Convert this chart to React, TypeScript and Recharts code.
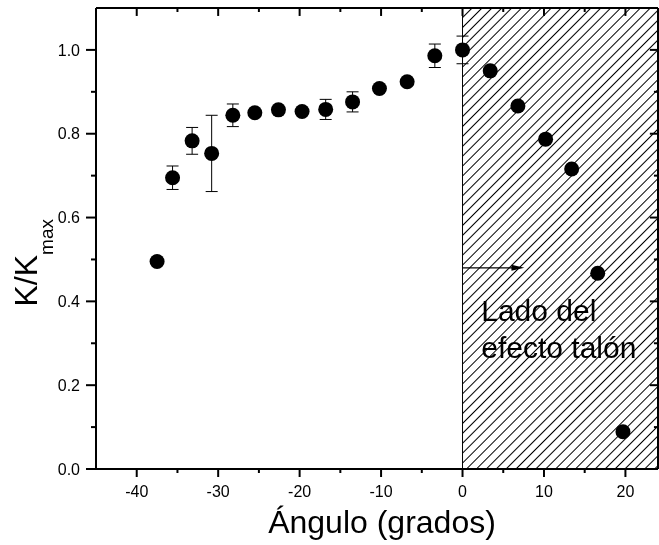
import React from "react";
import {
  ErrorBar,
  Label,
  ReferenceArea,
  ReferenceDot,
  ReferenceLine,
  Scatter,
  ScatterChart,
  XAxis,
  YAxis,
} from "recharts";

// angle in degrees
const angles = [
  -37.5, -35.6, -33.2, -30.8, -28.2, -25.5, -22.6, -19.7, -16.8, -13.5, -10.2,
  -6.8, -3.4, 0, 3.4, 6.8, 10.2, 13.4, 16.6, 19.7,
];
// K / Kmax
const ratios = [
  0.495, 0.695, 0.783, 0.753, 0.844, 0.85, 0.857, 0.853, 0.858, 0.876, 0.908,
  0.924, 0.986, 1.0, 0.95, 0.866, 0.787, 0.716, 0.467, 0.089,
];
const errors = [
  0, 0.028, 0.032, 0.091, 0.027, 0, 0, 0, 0.024, 0.024, 0, 0, 0.028, 0.033, 0,
  0, 0, 0, 0, 0,
];

const xTicks = [-40, -35, -30, -25, -20, -15, -10, -5, 0, 5, 10, 15, 20];
const yTicks = [0, 0.1, 0.2, 0.3, 0.4, 0.5, 0.6, 0.7, 0.8, 0.9, 1.0];

const xDomain = [-45, 24];
const yDomain = [0, 1.1];

const heelStart = 0;
const heelEnd = 24;
const arrowY = 0.48;
const arrowEnd = 7.6;

const points = angles.map((a, i) => ({ x: a, y: ratios[i], err: errors[i] }));

const isMajorX = (v: number) => Math.abs(v % 10) < 1e-6;
const isMajorY = (v: number) => Math.round(v * 10) % 2 === 0;

const BottomTick = ({ x, y, payload }: any) => {
  const major = isMajorX(payload.value);
  return (
    <g>
      <line x1={x} x2={x} y1={y} y2={y + (major ? 8 : 4)} stroke="#000" strokeWidth={2} />
      {major && (
        <text x={x} y={y + 28} textAnchor="middle" fontSize={16} fill="#000">
          {payload.value}
        </text>
      )}
    </g>
  );
};

const LeftTick = ({ x, y, payload }: any) => {
  const major = isMajorY(payload.value);
  return (
    <g>
      <line x1={x} x2={x - (major ? 10 : 5)} y1={y} y2={y} stroke="#000" strokeWidth={2} />
      {major && (
        <text x={x - 16} y={y} dy="0.35em" textAnchor="end" fontSize={16} fill="#000">
          {payload.value.toFixed(1)}
        </text>
      )}
    </g>
  );
};

// inward ticks on the top and right frame lines (short segments)
const FrameMark = ({ x1, y1, x2, y2 }: any) => (
  <line x1={x1} x2={x2} y1={y1} y2={y2} stroke="#000" strokeWidth={2} />
);

const XTitle = ({ viewBox }: any) => (
  <text
    x={viewBox.x + viewBox.width / 2 + 5}
    y={viewBox.y + 64}
    textAnchor="middle"
    fontSize={32}
    fill="#000"
  >
    Ángulo (grados)
  </text>
);

const YTitle = ({ viewBox }: any) => {
  const cx = 37;
  const cy = viewBox.y + viewBox.height / 2 + 68;
  return (
    <text transform={`rotate(-90, ${cx}, ${cy})`} x={cx} y={cy} fontSize={32} fill="#000">
      K/K
      <tspan fontSize={19} dy={16}>
        max
      </tspan>
    </text>
  );
};

const Dot = ({ cx, cy }: any) => <circle cx={cx} cy={cy} r={7.5} fill="#000" />;

const Arrow = ({ x1, y1, x2, y2 }: any) => (
  <g>
    <line x1={x1} y1={y1} x2={x2 - 10} y2={y2} stroke="#000" strokeWidth={1.2} />
    <polygon points={`${x2},${y2} ${x2 - 13},${y2 - 3} ${x2 - 13},${y2 + 3}`} fill="#000" />
  </g>
);

const HeelText = ({ cx, cy }: any) => (
  <text x={cx} y={cy} fontSize={30} fill="#000">
    <tspan x={cx}>Lado del</tspan>
    <tspan x={cx} dy={37}>
      efecto talón
    </tspan>
  </text>
);

export default function App() {
  return (
    <div style={{ position: "fixed", left: 0, top: 0, fontFamily: "'Liberation Sans', Arial, sans-serif" }}>
      <svg width={0} height={0} style={{ position: "absolute" }}>
        <defs>
          <pattern
            id="hatch"
            patternUnits="userSpaceOnUse"
            width={7}
            height={7}
            patternTransform="rotate(-45)"
          >
            <line x1={0} y1={3.5} x2={7} y2={3.5} stroke="#000" strokeWidth={1} />
          </pattern>
        </defs>
      </svg>
      <ScatterChart width={659} height={545} margin={{ top: 7, right: 0, bottom: 0, left: 0 }}>
        <ReferenceArea x1={heelStart} x2={heelEnd} y1={0} y2={1.1} fill="url(#hatch)" fillOpacity={1} stroke="none" />
        <ReferenceLine x={heelStart} stroke="#000" strokeWidth={1} />
        <XAxis
          type="number"
          dataKey="x"
          domain={xDomain}
          ticks={xTicks}
          interval={0}
          allowDataOverflow
          height={76}
          tickSize={0}
          tickMargin={0}
          tickLine={false}
          tick={<BottomTick />}
          axisLine={{ stroke: "#000", strokeWidth: 2 }}
        >
          <Label content={<XTitle />} />
        </XAxis>
        <XAxis
          xAxisId="top"
          orientation="top"
          type="number"
          domain={xDomain}
          height={1}
          tick={false}
          tickLine={false}
          axisLine={{ stroke: "#000", strokeWidth: 2 }}
        />
        <YAxis
          type="number"
          dataKey="y"
          domain={yDomain}
          ticks={yTicks}
          interval={0}
          allowDataOverflow
          width={96}
          tickSize={0}
          tickMargin={0}
          tickLine={false}
          tick={<LeftTick />}
          axisLine={{ stroke: "#000", strokeWidth: 2 }}
        >
          <Label content={<YTitle />} />
        </YAxis>
        <YAxis
          yAxisId="right"
          orientation="right"
          type="number"
          domain={yDomain}
          width={1}
          tick={false}
          tickLine={false}
          axisLine={{ stroke: "#000", strokeWidth: 2 }}
        />
        {xTicks.map((v) => (
          <ReferenceLine
            key={`t${v}`}
            segment={[
              { x: v, y: yDomain[1] },
              { x: v, y: yDomain[1] - (isMajorX(v) ? 0.019 : 0.0095) },
            ]}
            shape={<FrameMark />}
          />
        ))}
        {yTicks.map((v) => (
          <ReferenceLine
            key={`r${v}`}
            segment={[
              { x: xDomain[1], y: v },
              { x: xDomain[1] - (isMajorY(v) ? 1 : 0.5), y: v },
            ]}
            shape={<FrameMark />}
          />
        ))}
        <ReferenceLine
          segment={[
            { x: heelStart, y: arrowY },
            { x: arrowEnd, y: arrowY },
          ]}
          shape={<Arrow />}
        />
        <ReferenceDot x={2.3} y={0.354} r={0} shape={<HeelText />} />
        <Scatter data={points} shape={<Dot />} isAnimationActive={false}>
          <ErrorBar dataKey="err" direction="y" width={6} stroke="#000" strokeWidth={1} />
        </Scatter>
      </ScatterChart>
    </div>
  );
}
